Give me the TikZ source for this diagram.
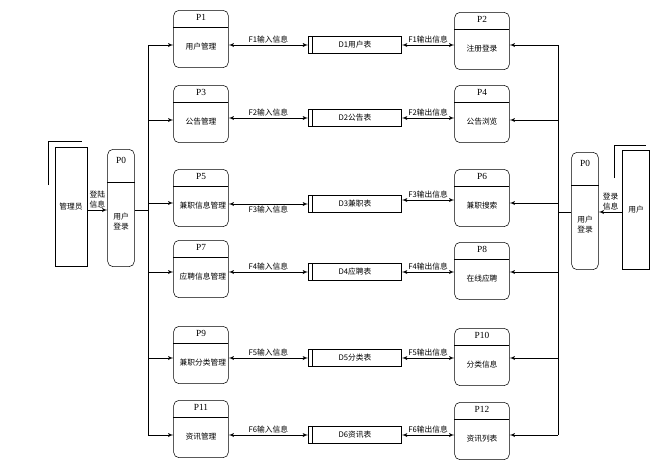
\documentclass[tikz,border=0pt]{standalone}
\usepackage{fontspec}
\setmainfont{Liberation Serif}
\newfontfamily\cjk{Noto Sans CJK SC}
\usetikzlibrary{arrows,positioning}
\tikzset{
    proc/.style={draw=black, rounded corners=4pt, minimum width=41pt, minimum height=43pt, inner sep=0pt},
    pzero/.style={draw=black, rounded corners=4pt, minimum width=20pt, minimum height=88pt, inner sep=0pt},
    ent/.style={draw=black, minimum width=24pt, minimum height=89pt, inner sep=0pt},
    store/.style={draw=black, minimum width=70pt, minimum height=13pt, inner sep=0pt},
    lbl/.style={font=\cjk\fontsize{5.8}{7.5}\selectfont, inner sep=1pt, align=center},
    flow/.style={draw, -latex'},
    both/.style={draw, latex'-latex'},
}
\newcommand{\proc}[5]{%
    \node[proc] (#1) at (#2,#3) {};
    \draw (#1.north west) ++(0,-13pt) -- ++(41pt,0);
    \node[lbl, font=\fontsize{7}{8}\selectfont, below=2pt of #1.north] {#4};
    \node[lbl, text width=32pt] at ([yshift=-6pt]#1.center) {#5};
}
\newcommand{\store}[3]{%
    \node[store, lbl, minimum width=70pt, minimum height=13pt] (#1) at (355,#2) {#3};
    \draw ([xshift=3pt]#1.north west) -- ([xshift=3pt]#1.south west);
}
\begin{document}
\begin{tikzpicture}[x=0.75pt, y=-0.75pt]
\useasboundingbox (0,0) rectangle (666,471);
% left processes
\proc{p1}{201}{39}{P1}{用户管理}
\proc{p3}{201}{114}{P3}{公告管理}
\proc{p5}{201}{198}{P5}{兼职信息管理}
\proc{p7}{201}{269}{P7}{应聘信息管理}
\proc{p9}{201}{355}{P9}{兼职分类管理}
\proc{p11}{201}{429}{P11}{资讯管理}
% right processes
\proc{p2}{482}{41}{P2}{注册登录}
\proc{p4}{482}{114}{P4}{公告浏览}
\proc{p6}{482}{198}{P6}{兼职搜索}
\proc{p8}{482}{271}{P8}{在线应聘}
\proc{p10}{482}{357}{P10}{分类信息}
\proc{p12}{482}{431}{P12}{资讯列表}
% data stores
\store{d1}{45}{D1用户表}
\store{d2}{118}{D2公告表}
\store{d3}{204}{D3兼职表}
\store{d4}{272}{D4应聘表}
\store{d5}{358}{D5分类表}
\store{d6}{435}{D6资讯表}
% login processes and entities
\node[pzero] (p0l) at (121,208) {};
\draw ([yshift=-25pt]p0l.north west) -- ([yshift=-25pt]p0l.north east);
\node[lbl, font=\fontsize{7}{8}\selectfont, below=5pt of p0l.north] {P0};
\node[lbl] at ([yshift=-10pt]p0l.center) {用户\\登录};
\node[pzero] (p0r) at (585,211) {};
\draw ([yshift=-25pt]p0r.north west) -- ([yshift=-25pt]p0r.north east);
\node[lbl, font=\fontsize{7}{8}\selectfont, below=5pt of p0r.north] {P0};
\node[lbl] at ([yshift=-10pt]p0r.center) {用户\\登录};
\node[ent, lbl] (adm) at (71,207) {管理员};
\draw (48,185) -- (48,141) -- (82,141);
\node[ent, lbl, minimum width=20pt] (usr) at (636,210) {用户};
\draw (614,178) -- (614,145) -- (646,145);
\draw[flow] (adm.east |- 0,210) -- node[lbl, above] {登陆\\信息} (p0l.west |- 0,210);
\draw[flow] (usr.west |- 0,212) -- node[lbl, above] {登录\\信息} (p0r.east |- 0,212);
% buses
\coordinate (bl) at (148,210);
\coordinate (br) at (558,212);
\draw (p0l.east |- bl) -- (bl);
\draw (p0r.west |- br) -- (br);
\draw (148,45) -- (148,435);
\draw (558,45) -- (558,435);
\foreach \p/\y in {p1/45,p3/120,p5/203,p7/272,p9/358,p11/435}
    \draw[flow] (148,\y) -- (\p.west |- 0,\y);
\foreach \p/\y in {p2/45,p4/120,p6/203,p8/272,p10/358,p12/435}
    \draw[flow] (558,\y) -- (\p.east |- 0,\y);
% flows to and from stores
\foreach \n/\p/\d/\y in {1/p1/d1/45,2/p3/d2/118,4/p7/d4/272,5/p9/d5/358,6/p11/d6/435}
    \draw[both] (\p.east |- 0,\y) -- node[lbl, above] {F{\n}输入信息} (\d.west |- 0,\y);
\draw[both] (p5.east |- 0,204) -- node[lbl, below] {F3输入信息} (d3.west |- 0,204);
\foreach \n/\p/\d/\y in {1/p2/d1/45,2/p4/d2/118,3/p6/d3/200,4/p8/d4/272,5/p10/d5/358,6/p12/d6/435}
    \draw[both] (\d.east |- 0,\y) -- node[lbl, above] {F{\n}输出信息} (\p.west |- 0,\y);
\end{tikzpicture}
\end{document}
